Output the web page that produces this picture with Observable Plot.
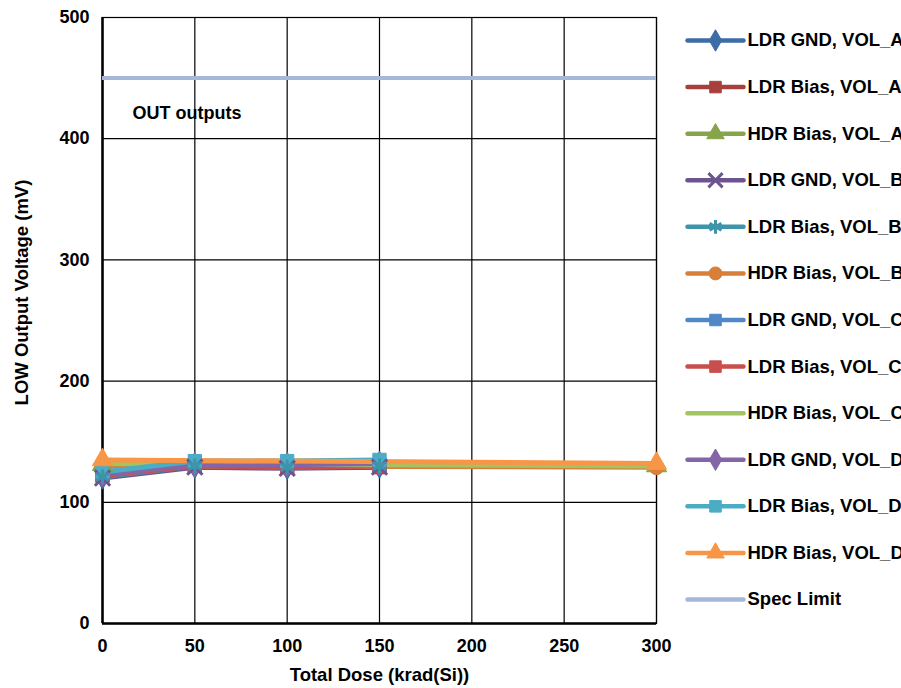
<!DOCTYPE html>
<html>
<head>
<meta charset="utf-8">
<script src="https://cdn.jsdelivr.net/npm/d3@7"></script>
<script src="https://cdn.jsdelivr.net/npm/@observablehq/plot@0.6"></script>
<style>
  html, body { margin: 0; padding: 0; background: #fff; overflow: hidden; }
  #wrap { position: relative; width: 901px; height: 688px; overflow: hidden; background: #fff; }
  #wrap > svg, #wrap > figure { position: absolute; top: 0; margin: 0; }
</style>
</head>
<body>
<div id="wrap"></div>
<script>
// ---- data ----
const seriesNames = [
  "LDR GND, VOL_A", "LDR Bias, VOL_A", "HDR Bias, VOL_A",
  "LDR GND, VOL_B", "LDR Bias, VOL_B", "HDR Bias, VOL_B",
  "LDR GND, VOL_C", "LDR Bias, VOL_C", "HDR Bias, VOL_C",
  "LDR GND, VOL_D", "LDR Bias, VOL_D", "HDR Bias, VOL_D"
];
const specName = "Spec Limit";
const seriesColors = [
  "#3D6CA6", "#A7403D", "#86A54A",
  "#6C5490", "#3D94AB", "#D8803A",
  "#5087C6", "#C94F4D", "#A2C463",
  "#8466A8", "#4BACC6", "#F79646"
];
const specColor = "#A6B8D9";
const seriesSymbols = [
  "diamond", "square", "triangle",
  "times", "asterisk", "circle",
  "square", "square", null,
  "diamond", "square", "triangle"
];

const ldrDoses = [0, 50, 100, 150];
const hdrDoses = [0, 300];

const ldrGndA  = [121, 130, 129, 130];
const ldrBiasA = [122, 130, 129, 129];
const hdrBiasA = [131, 130];
const ldrGndB  = [120, 129, 128, 129];
const ldrBiasB = [121, 130, 129, 130];
const hdrBiasB = [130, 129];
const ldrGndC  = [123, 131, 130, 131];
const ldrBiasC = [122, 130, 129, 130];
const hdrBiasC = [132, 130];
const ldrGndD  = [123, 131, 131, 132];
const ldrBiasD = [125, 134, 134, 135];
const hdrBiasD = [135, 132];

const specLimit = 450;
const xTicks = [0, 50, 100, 150, 200, 250, 300];
const yTicks = [0, 100, 200, 300, 400, 500];

// ---- build table ----
const seriesValues = [ldrGndA, ldrBiasA, hdrBiasA, ldrGndB, ldrBiasB, hdrBiasB,
                      ldrGndC, ldrBiasC, hdrBiasC, ldrGndD, ldrBiasD, hdrBiasD];
const rows = [];
seriesNames.forEach((name, i) => {
  const vals = seriesValues[i];
  const doses = name.startsWith("HDR") ? hdrDoses : ldrDoses;
  vals.forEach((v, j) => rows.push({series: name, dose: doses[j], value: v, idx: i}));
});
const strokeSyms = new Set(["times", "asterisk"]);
const symOf = name => seriesSymbols[seriesNames.indexOf(name)];
const filledRows = rows.filter(d => symOf(d.series) && !strokeSyms.has(symOf(d.series)));
const strokedRows = rows.filter(d => strokeSyms.has(symOf(d.series)));

const font = "Arial, 'Liberation Sans', Helvetica, sans-serif";
const allNames = [...seriesNames, specName];
const allColors = [...seriesColors, specColor];
const colorScale = {domain: allNames, range: allColors};
const symDomain = seriesNames.filter(n => symOf(n));
const symbolScale = {domain: symDomain, range: symDomain.map(symOf)};

const main = Plot.plot({
  width: 901, height: 688,
  marginLeft: 102, marginRight: 245, marginTop: 17, marginBottom: 65,
  style: {fontFamily: font, fontSize: "18px", fontWeight: "bold", color: "#000", background: "transparent", overflow: "visible"},
  x: {domain: [0, 300], ticks: xTicks, tickSize: 0, tickPadding: 16, label: null},
  y: {domain: [0, 500], ticks: yTicks, tickSize: 0, tickPadding: 13, label: null},
  color: colorScale,
  symbol: symbolScale,
  marks: [
    Plot.gridX(xTicks, {stroke: "#000", strokeOpacity: 1, strokeWidth: 1.2}),
    Plot.gridY(yTicks, {stroke: "#000", strokeOpacity: 1, strokeWidth: 1.2}),
    Plot.frame({stroke: "#000", strokeWidth: 1.2}),
    Plot.ruleX([0], {stroke: "#000", strokeWidth: 2.5}),
    Plot.ruleY([0], {stroke: "#000", strokeWidth: 2.5}),
    Plot.ruleY([specLimit], {stroke: specColor, strokeWidth: 4}),
    Plot.line(rows, {x: "dose", y: "value", z: "series", stroke: "series", strokeWidth: 5, strokeLinecap: "round", strokeLinejoin: "round"}),
    Plot.dot(filledRows, {x: "dose", y: "value", fill: "series", symbol: "series", r: 7.5, stroke: "series", strokeWidth: 1}),
    Plot.dot(strokedRows, {x: "dose", y: "value", stroke: "series", symbol: "series", r: 7, strokeWidth: 3}),
    Plot.text(["OUT outputs"], {frameAnchor: "top-left", dx: 30, dy: 89, textAnchor: "start", fill: "#000", fontSize: 18, fontWeight: "bold"}),
    Plot.text(["Total Dose (krad(Si))"], {frameAnchor: "bottom", dy: 57, textAnchor: "middle", fill: "#000", fontSize: 18.5, fontWeight: "bold"}),
    Plot.text(["LOW Output Voltage (mV)"], {frameAnchor: "left", dx: -80, dy: -28, rotate: -90, textAnchor: "middle", fill: "#000", fontSize: 18.5, fontWeight: "bold"})
  ]
});
main.style.left = "0px";

// ---- legend ----
const legendRows = allNames.map(n => ({name: n}));
const legendFilled = seriesNames.filter(n => symOf(n) && !strokeSyms.has(symOf(n))).map(n => ({name: n}));
const legendStroked = seriesNames.filter(n => strokeSyms.has(symOf(n))).map(n => ({name: n}));
const legend = Plot.plot({
  width: 400, height: 688,
  marginLeft: 7, marginRight: 337, marginTop: 0, marginBottom: 0,
  style: {fontFamily: font, fontSize: "18px", fontWeight: "bold", color: "#000", background: "transparent", overflow: "visible"},
  x: {domain: [0, 1], axis: null},
  y: {type: "point", domain: allNames, range: [40, 599], padding: 0, round: false, axis: null},
  color: colorScale,
  symbol: symbolScale,
  marks: [
    Plot.link(legendRows, {x1: () => 0, x2: () => 1, y1: "name", y2: "name", stroke: "name", strokeWidth: 4.5, strokeLinecap: "round"}),
    Plot.dot(legendFilled, {x: () => 0.5, y: "name", fill: "name", stroke: "name", symbol: "name", r: 6.5, strokeWidth: 1}),
    Plot.dot(legendStroked, {x: () => 0.5, y: "name", stroke: "name", symbol: "name", r: 6.5, strokeWidth: 3}),
    Plot.text(legendRows, {x: () => 1, y: "name", text: "name", dx: 4, textAnchor: "start", fill: "#000", fontSize: 18.5, fontWeight: "bold"})
  ]
});
legend.style.left = "680px";

const wrap = document.getElementById("wrap");
wrap.appendChild(main);
wrap.appendChild(legend);
</script>
</body>
</html>
